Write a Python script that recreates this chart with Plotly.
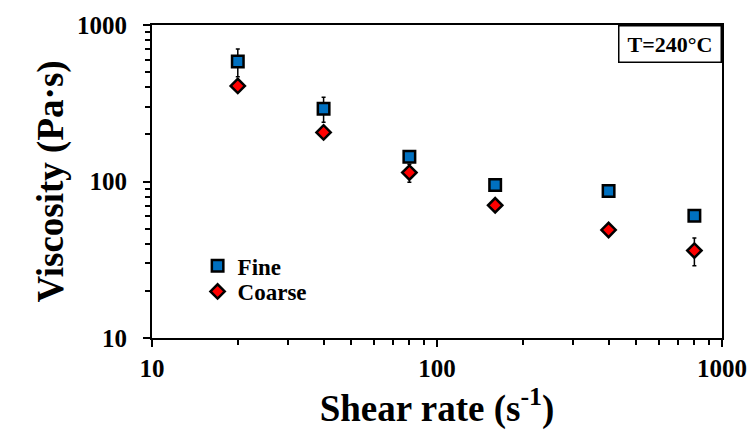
import plotly.graph_objects as go

shear_rate = [20, 40, 80, 160, 400, 800]
fine_visc = [585, 292, 144, 95, 87, 60.5]
fine_err = [118, 53, 8, 4, 4, 3]
coarse_visc = [408, 206, 114, 70.5, 49, 36.2]
coarse_err = [20, 10, 15, 4, 3, 7.3]

x_ticks = [10, 100, 1000]
y_ticks = [10, 100, 1000]
minor_ticks = [m * d for d in (10, 100) for m in range(2, 10)]

FONT = "Liberation Serif, Times New Roman, serif"

fig = go.Figure()
fig.add_trace(go.Scatter(
    x=shear_rate, y=fine_visc, mode="markers", name="Fine", legend="legend",
    marker=dict(symbol="square", size=11.5, color="#0070C0",
                line=dict(color="black", width=2.5)),
    error_y=dict(type="data", array=fine_err, color="black", thickness=1.5, width=2),
))
fig.add_trace(go.Scatter(
    x=shear_rate, y=coarse_visc, mode="markers", name="Coarse", legend="legend2",
    marker=dict(symbol="diamond", size=11, color="#FF0000",
                line=dict(color="black", width=2.5)),
    error_y=dict(type="data", array=coarse_err, color="black", thickness=1.5, width=2),
))

axis_common = dict(
    type="log", range=[1, 3], showgrid=False, zeroline=False, automargin=False,
    showline=True, linecolor="black", linewidth=2, mirror=True,
    ticks="outside", ticklen=7, tickwidth=1.5, tickcolor="black",
    tickfont=dict(family=FONT, size=25, color="black", weight="bold"),
    minor=dict(ticks="outside", ticklen=5, tickwidth=1.5, tickcolor="black",
               tickvals=minor_ticks, showgrid=False),
)

legend_common = dict(
    xanchor="left", yanchor="middle", bgcolor="rgba(0,0,0,0)",
    font=dict(family=FONT, size=23, color="black", weight="bold"),
    itemwidth=30,
)

fig.update_layout(
    width=753, height=436,
    margin=dict(l=152, r=31, t=25, b=98),
    paper_bgcolor="white", plot_bgcolor="white",
    showlegend=True,
    legend=dict(x=0.08, y=1 - (265.7 - 25) / 313, **legend_common),
    legend2=dict(x=0.08, y=1 - (291.5 - 25) / 313, **legend_common),
    xaxis=dict(**axis_common, tickvals=x_ticks, ticktext=[str(v) for v in x_ticks],
               ticklabelstandoff=0,
               title=dict(text="Shear rate (s<sup>-1</sup>)", standoff=5,
                          font=dict(family=FONT, size=37, color="black", weight="bold"))),
    yaxis=dict(**axis_common, tickvals=y_ticks, ticktext=[str(v) for v in y_ticks],
               ticklabelstandoff=11,
               title=dict(text="Viscosity (Pa·s)", standoff=2,
                          font=dict(family=FONT, size=37, color="black", weight="bold"))),
    annotations=[dict(
        text="T=240°C", xref="paper", yref="paper", x=1, y=1,
        xanchor="right", yanchor="top", showarrow=False,
        font=dict(family=FONT, size=22, color="black", weight="bold"),
        bordercolor="black", borderwidth=1.5, borderpad=0,
        width=101, height=35, bgcolor="white",
    )],
)

fig.write_html("out.html", config={"displayModeBar": False},
               post_script="document.body.style.margin='0';")
